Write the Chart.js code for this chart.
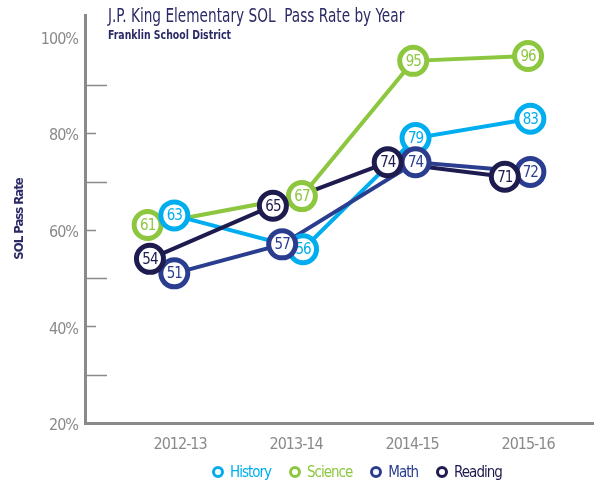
<!DOCTYPE html>
<html lang="en">
<head>
  <meta charset="UTF-8">
  <title>J.P. King Elementary SOL Pass Rate by Year</title>
  <script src="https://cdn.jsdelivr.net/npm/chart.js@4"></script>
  <style>
    body { margin: 0; background: #fff; }
    .wrap { position: relative; width: 595px; height: 483px; font-family: 'DejaVu Sans Condensed', 'DejaVu Sans', sans-serif; }
    .title {
      position: absolute; left: 108px; top: 4px;
      font-size: 19px; color: #2b2a66; white-space: pre;
      transform: scaleX(0.8); transform-origin: left top;
    }
    .subtitle {
      position: absolute; left: 108px; top: 27px;
      font-size: 13px; font-weight: bold; color: #2b2a66; white-space: pre;
      transform: scaleX(0.8); transform-origin: left top;
    }
    .legend {
      position: absolute; left: 212px; top: 462px;
      display: flex; gap: 18px; align-items: center;
      font-size: 15px; letter-spacing: -1px; line-height: 20px;
    }
    .legend span { display: flex; align-items: center; gap: 6px; }
    .legend i { display: block; width: 6px; height: 6px; border: 3px solid; border-radius: 50%; }
  </style>
</head>
<body>
  <div class="wrap">
    <canvas id="myChart" width="595" height="483"></canvas>
    <div class="title">J.P. King Elementary SOL  Pass Rate by Year</div>
    <div class="subtitle">Franklin School District</div>
    <div class="legend" id="legend"></div>
  </div>
  <script>
    // data
    const years = ['2012-13', '2013-14', '2014-15', '2015-16'];
    const history = [63, 56, 79, 83];
    const science = [61, 67, 95, 96];
    const math = [51, 57, 74, 72];
    const reading = [54, 65, 74, 71];
    const yTickValues = [20, 30, 40, 50, 60, 70, 80, 90, 100];

    // small sideways shift (in category units) so circles don't sit on top of each other
    const nudge = {
      History: [-0.05, 0.06, 0.03, 0.02],
      Science: [-0.28, 0.05, 0.01, 0],
      Math: [-0.05, -0.12, 0.03, 0.02],
      Reading: [-0.26, -0.2, -0.21, -0.2]
    };

    const FONT = "'DejaVu Sans Condensed', 'DejaVu Sans', sans-serif";
    const GREY = '#8a8a8a';

    // legend order; "order" = stacking of the circles (0 is on top)
    const seriesList = [
      { label: 'History', values: history, color: '#00aeef', order: 2 },
      { label: 'Science', values: science, color: '#8dc63f', order: 3 },
      { label: 'Math', values: math, color: '#2b3d8f', order: 1 },
      { label: 'Reading', values: reading, color: '#1e1b4f', order: 0 }
    ];

    const points = s => s.values.map((v, i) => ({ x: i + nudge[s.label][i], y: v }));

    // all the lines go underneath, the circles are drawn over them
    const lineSets = seriesList.map(s => ({
      label: s.label,
      data: points(s),
      borderColor: s.color,
      borderWidth: 4,
      tension: 0,
      pointRadius: 0,
      order: 10 + s.order
    }));
    const circleSets = seriesList.map(s => ({
      label: s.label,
      data: points(s),
      showLine: false,
      borderColor: s.color,
      pointRadius: 13.5,
      pointHoverRadius: 13.5,
      pointBorderWidth: 5,
      pointBackgroundColor: '#fff',
      pointBorderColor: s.color,
      order: s.order,
      isCircles: true
    }));

    // the reference uses a narrow face, tighten the canvas text a bit
    const narrowText = {
      id: 'narrowText',
      beforeInit(chart) { chart.ctx.letterSpacing = '-1px'; },
      beforeDraw(chart) { chart.ctx.letterSpacing = '-1px'; }
    };

    // numbers inside the circles, drawn right after each dataset so layering follows the circles
    const pointLabels = {
      id: 'pointLabels',
      afterDatasetDraw(chart, args) {
        const ds = chart.data.datasets[args.index];
        if (!ds.isCircles) return;
        const ctx = chart.ctx;
        ctx.save();
        ctx.font = '15px ' + FONT;
        ctx.fillStyle = ds.borderColor;
        ctx.textAlign = 'center';
        ctx.textBaseline = 'middle';
        args.meta.data.forEach((pt, i) => {
          ctx.fillText(ds.data[i].y, pt.x, pt.y + 1);
        });
        ctx.restore();
      }
    };

    // tick marks sit inside the plot: short at labelled values, long in between
    const innerTicks = {
      id: 'innerTicks',
      afterDraw(chart) {
        const ctx = chart.ctx;
        const y = chart.scales.y;
        const left = chart.chartArea.left;
        ctx.save();
        ctx.strokeStyle = GREY;
        ctx.lineWidth = 1.5;
        yTickValues.forEach(v => {
          if (v === 20 || v === 100) return;
          const py = Math.round(y.getPixelForValue(v)) + 0.5;
          const len = v % 20 === 0 ? 11 : 22;
          ctx.beginPath();
          ctx.moveTo(left, py);
          ctx.lineTo(left + len, py);
          ctx.stroke();
        });
        ctx.restore();
      }
    };

    new Chart(document.getElementById('myChart'), {
      type: 'line',
      data: { datasets: [...lineSets, ...circleSets] },
      plugins: [narrowText, pointLabels, innerTicks],
      options: {
        responsive: false,
        animation: false,
        events: [],
        layout: { autoPadding: false, padding: { top: 15, right: 2, left: 0, bottom: 26 } },
        scales: {
          x: {
            type: 'linear',
            min: -0.82,
            max: 3.56,
            afterBuildTicks: s => { s.ticks = years.map((_, i) => ({ value: i })); },
            afterFit: s => { s.height = 34; s.paddingLeft = 0; s.paddingRight = 0; },
            ticks: {
              callback: v => years[v],
              color: GREY,
              font: { family: FONT, size: 16 },
              padding: 12,
              maxRotation: 0
            },
            grid: { display: false, drawTicks: false },
            border: { display: true, color: GREY, width: 3 }
          },
          y: {
            min: 20,
            max: 104.5,
            afterBuildTicks: s => { s.ticks = yTickValues.map(v => ({ value: v })); },
            afterFit: s => { s.width = 85; s.paddingTop = 0; s.paddingBottom = 0; },
            ticks: {
              callback: v => (v % 20 === 0 ? v + '%' : ''),
              color: GREY,
              font: { family: FONT, size: 16 },
              padding: 7,
              labelOffset: 3
            },
            grid: { display: false, drawTicks: false },
            border: { display: true, color: GREY, width: 3 },
            title: {
              display: true,
              text: 'SOL Pass Rate',
              color: '#2b2a66',
              font: { family: FONT, size: 13, weight: 'bold' },
              padding: { top: 12, bottom: 0 }
            }
          }
        },
        plugins: {
          tooltip: { enabled: false },
          legend: { display: false }
        }
      }
    });

    // legend in the order of the picture
    document.getElementById('legend').innerHTML = seriesList.map(s =>
      `<span style="color:${s.color}"><i style="border-color:${s.color}"></i>${s.label}</span>`
    ).join('');
  </script>
</body>
</html>
